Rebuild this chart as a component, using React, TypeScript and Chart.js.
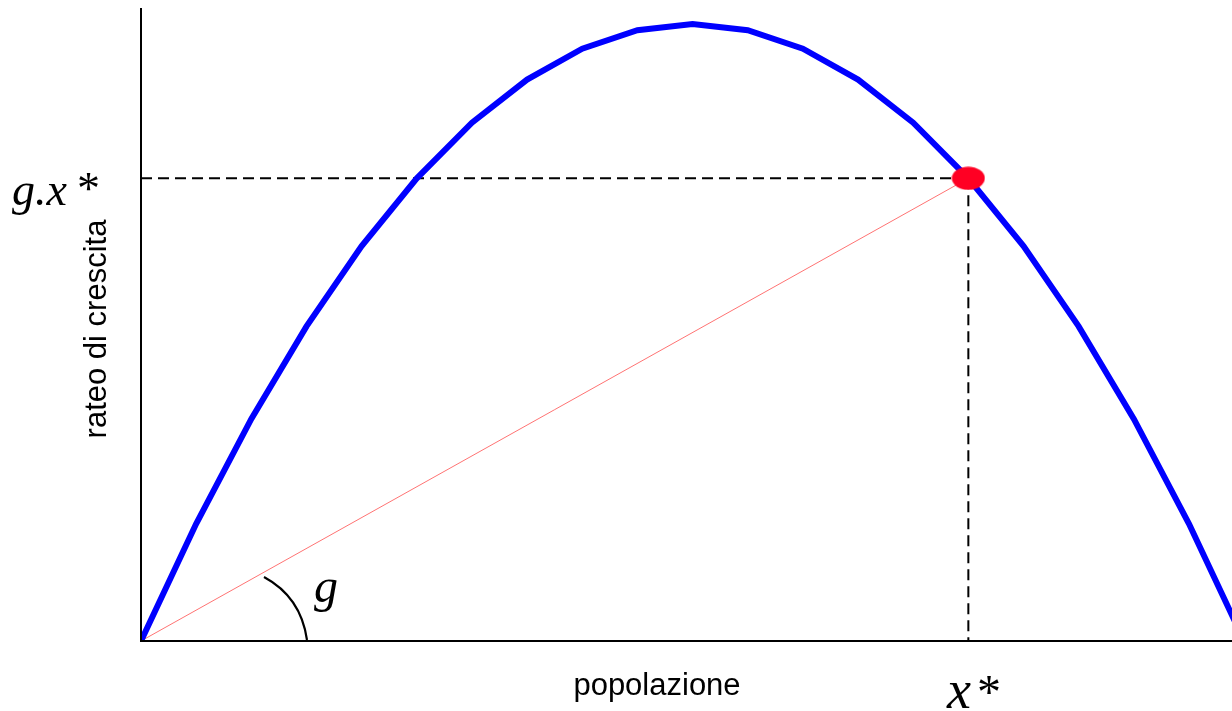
import React, { useEffect, useRef } from "react";
import { Chart, registerables } from "chart.js";

Chart.register(...registerables);

// Logistic-type growth curve: population vs growth rate
const popolazione = [0, 1, 2, 3, 4, 5, 6, 7, 8, 9, 10, 11, 12, 13, 14, 15, 16, 17, 18, 19, 20];
const rateoCrescita = [0, 19, 36, 51, 64, 75, 84, 91, 96, 99, 100, 99, 96, 91, 84, 75, 64, 51, 36, 19, 0];

// Equilibrium point (x*, g·x*)
const xStar = 15;
const gxStar = 75;

// Visible axis ranges
const xMin = 0;
const xMax = 19.78;
const yMin = 0;
const yMax = 102.6;

function makeDot(): HTMLCanvasElement {
  const c = document.createElement("canvas");
  c.width = 34;
  c.height = 24;
  const ctx = c.getContext("2d")!;
  ctx.fillStyle = "rgb(255,0,35)";
  ctx.beginPath();
  ctx.ellipse(17, 12, 16.5, 11.5, 0, 0, Math.PI * 2);
  ctx.fill();
  return c;
}

const annotations = {
  id: "annotations",
  afterDraw(chart: Chart) {
    const { ctx, chartArea } = chart;
    const xs = chart.scales.x;
    const ys = chart.scales.y;
    ctx.save();

    // axes
    ctx.strokeStyle = "#000";
    ctx.lineWidth = 2;
    ctx.beginPath();
    ctx.moveTo(chartArea.left, chartArea.top);
    ctx.lineTo(chartArea.left, chartArea.bottom);
    ctx.lineTo(chartArea.right, chartArea.bottom);
    ctx.stroke();

    // angle arc for the slope g
    const ox = xs.getPixelForValue(0);
    const oy = ys.getPixelForValue(0);
    ctx.lineWidth = 2.2;
    ctx.beginPath();
    ctx.moveTo(ox + 123, oy - 64);
    ctx.quadraticCurveTo(ox + 160, oy - 44, ox + 166, oy - 1);
    ctx.stroke();

    ctx.fillStyle = "#000";
    ctx.textBaseline = "alphabetic";
    ctx.textAlign = "left";

    // serif italic math labels
    ctx.font = 'italic 46px "Liberation Serif"';
    ctx.fillText("g.x", 12, 205);
    ctx.font = '46px "Liberation Serif"';
    ctx.fillText("*", 77, 204);

    ctx.font = 'italic 54px "Liberation Serif"';
    ctx.fillText("x", 947, 708);
    ctx.font = '48px "Liberation Serif"';
    ctx.fillText("*", 977, 708);

    ctx.font = 'italic 48px "Liberation Serif"';
    ctx.fillText("g", 314, 602);

    // axis titles
    ctx.font = '31px "Liberation Sans"';
    ctx.textAlign = "center";
    ctx.fillText("popolazione", 657, 695);

    ctx.save();
    ctx.translate(106, 329);
    ctx.rotate(-Math.PI / 2);
    ctx.fillText("rateo di crescita", 0, 0);
    ctx.restore();

    ctx.restore();
  },
};

export default function App() {
  const ref = useRef<HTMLCanvasElement>(null);

  useEffect(() => {
    if (!ref.current) return;
    const curve = popolazione.map((x, i) => ({ x, y: rateoCrescita[i] }));
    const chart = new Chart(ref.current, {
      type: "line",
      data: {
        datasets: [
          {
            data: [{ x: xStar, y: gxStar }],
            pointStyle: makeDot(),
            pointRadius: 17,
            showLine: false,
            order: 0,
          },
          {
            data: curve,
            borderColor: "#0000ff",
            borderWidth: 6,
            pointRadius: 0,
            tension: 0,
            order: 1,
          },
          {
            data: [
              { x: 0, y: gxStar },
              { x: xStar, y: gxStar },
            ],
            borderColor: "#000",
            borderWidth: 2,
            borderDash: [11, 6],
            pointRadius: 0,
            order: 2,
          },
          {
            data: [
              { x: xStar, y: gxStar },
              { x: xStar, y: 0 },
            ],
            borderColor: "#000",
            borderWidth: 2,
            borderDash: [11, 6],
            pointRadius: 0,
            order: 2,
          },
          {
            data: [
              { x: 0, y: 0 },
              { x: xStar, y: gxStar },
            ],
            borderColor: "#ff7373",
            borderWidth: 1,
            pointRadius: 0,
            order: 3,
          },
        ],
      },
      options: {
        animation: false,
        responsive: false,
        devicePixelRatio: 1,
        layout: { autoPadding: false, padding: { left: 141, right: 0, top: 8, bottom: 70 } },
        plugins: { legend: { display: false }, tooltip: { enabled: false } },
        scales: {
          x: { type: "linear", min: xMin, max: xMax, display: false },
          y: { type: "linear", min: yMin, max: yMax, display: false },
        },
      },
      plugins: [annotations],
    });
    return () => chart.destroy();
  }, []);

  return (
    <div style={{ position: "absolute", left: 0, top: 0, width: 1232, height: 711, background: "#fff" }}>
      <canvas ref={ref} width={1232} height={711} style={{ width: 1232, height: 711 }} />
    </div>
  );
}
